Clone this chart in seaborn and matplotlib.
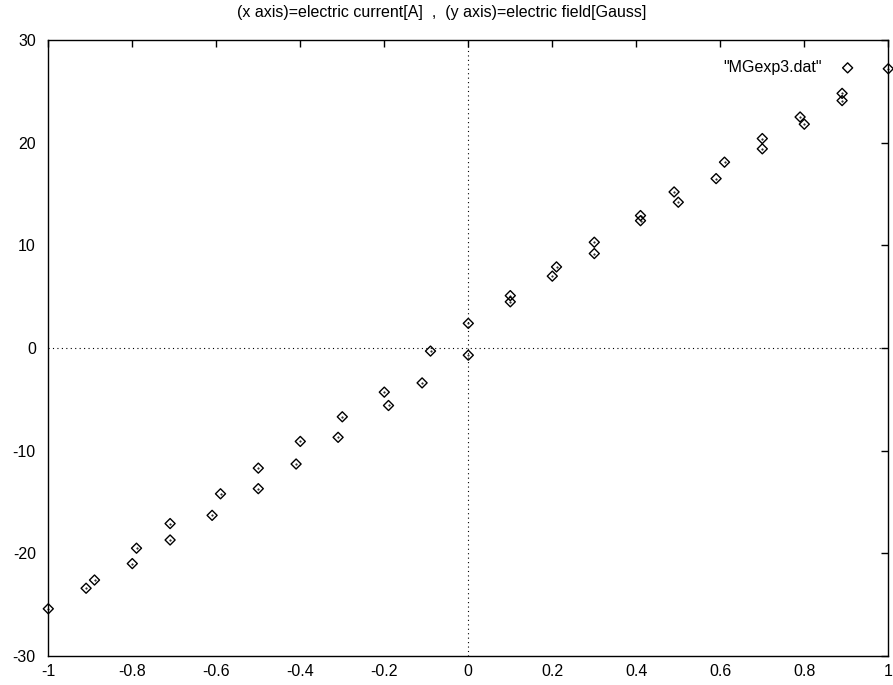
import matplotlib
matplotlib.use("Agg")
import matplotlib.pyplot as plt
import seaborn as sns
import pandas as pd

# Magnetic field measured against coil current (sweep up and down)
current = [-1.00, -0.91, -0.89, -0.80, -0.79, -0.71, -0.71, -0.61, -0.59,
           -0.50, -0.50, -0.41, -0.40, -0.31, -0.30, -0.20, -0.19, -0.11,
           -0.09, 0.00, 0.00, 0.10, 0.10, 0.20, 0.21, 0.30, 0.30, 0.41,
           0.41, 0.49, 0.50, 0.59, 0.61, 0.70, 0.70, 0.79, 0.80, 0.89,
           0.89, 1.00]
field = [-25.4, -23.4, -22.6, -21.0, -19.5, -18.7, -17.1, -16.3, -14.2,
         -13.7, -11.7, -11.3, -9.1, -8.7, -6.7, -4.3, -5.6, -3.4,
         -0.3, 2.4, -0.7, 5.1, 4.5, 7.0, 7.9, 10.3, 9.2, 12.9,
         12.4, 15.2, 14.2, 16.5, 18.1, 20.4, 19.4, 22.5, 21.8, 24.8,
         24.1, 27.2]

series_name = '"MGexp3.dat"'
title_text = "(x axis)=electric current[A]  ,  (y axis)=electric field[Gauss]"
x_ticks = [-1, -0.8, -0.6, -0.4, -0.2, 0, 0.2, 0.4, 0.6, 0.8, 1]
x_tick_labels = ["-1", "-0.8", "-0.6", "-0.4", "-0.2", "0", "0.2", "0.4", "0.6", "0.8", "1"]
y_ticks = [-30, -20, -10, 0, 10, 20, 30]

df = pd.DataFrame({"current": current, "field": field})

sns.set_theme(style="white")
plt.rcParams["font.family"] = ["Liberation Sans", "DejaVu Sans"]
plt.rcParams["axes.unicode_minus"] = False

fig = plt.figure(figsize=(8.93, 6.85), dpi=100)
ax = fig.add_axes([48.3 / 893, 29 / 685, 840 / 893, 616 / 685])

# zero axes as dotted lines
ax.axhline(0, color="black", lw=0.8, ls=(0, (1, 3)), zorder=1)
ax.axvline(0, color="black", lw=0.8, ls=(0, (1, 3)), zorder=1)

sns.scatterplot(data=df, x="current", y="field", ax=ax, marker="D", s=26,
                facecolor="none", edgecolor="black", linewidth=1.0,
                label=series_name, zorder=3, clip_on=False)
# centre dot of each point
ax.scatter(df["current"], df["field"], marker=".", s=1, color="black",
           zorder=4, clip_on=False)

ax.set_xlim(-1, 1)
ax.set_ylim(-30, 30)
ax.set_xticks(x_ticks)
ax.set_xticklabels(x_tick_labels)
ax.set_yticks(y_ticks)
ax.set_xlabel("")
ax.set_ylabel("")

for side in ["top", "bottom", "left", "right"]:
    ax.spines[side].set_visible(True)
    ax.spines[side].set_color("black")
    ax.spines[side].set_linewidth(1.0)

ax.tick_params(direction="in", length=5, width=1, colors="black",
               top=True, right=True, labelsize=11.5)
ax.tick_params(axis="y", pad=9)
ax.tick_params(axis="x", pad=6)
for lab in ax.get_xticklabels() + ax.get_yticklabels():
    lab.set_color("black")

leg = ax.legend(loc="upper right", bbox_to_anchor=(0.982, 0.983),
                frameon=False, markerfirst=False, fontsize=11.5,
                handletextpad=0.6, borderaxespad=0.2)
for t in leg.get_texts():
    t.set_color("black")

fig.text(0.495, 1 - 13 / 685, title_text, ha="center", va="center",
         fontsize=11.5, color="black")

fig.savefig("out.png", dpi=100, facecolor="white")
